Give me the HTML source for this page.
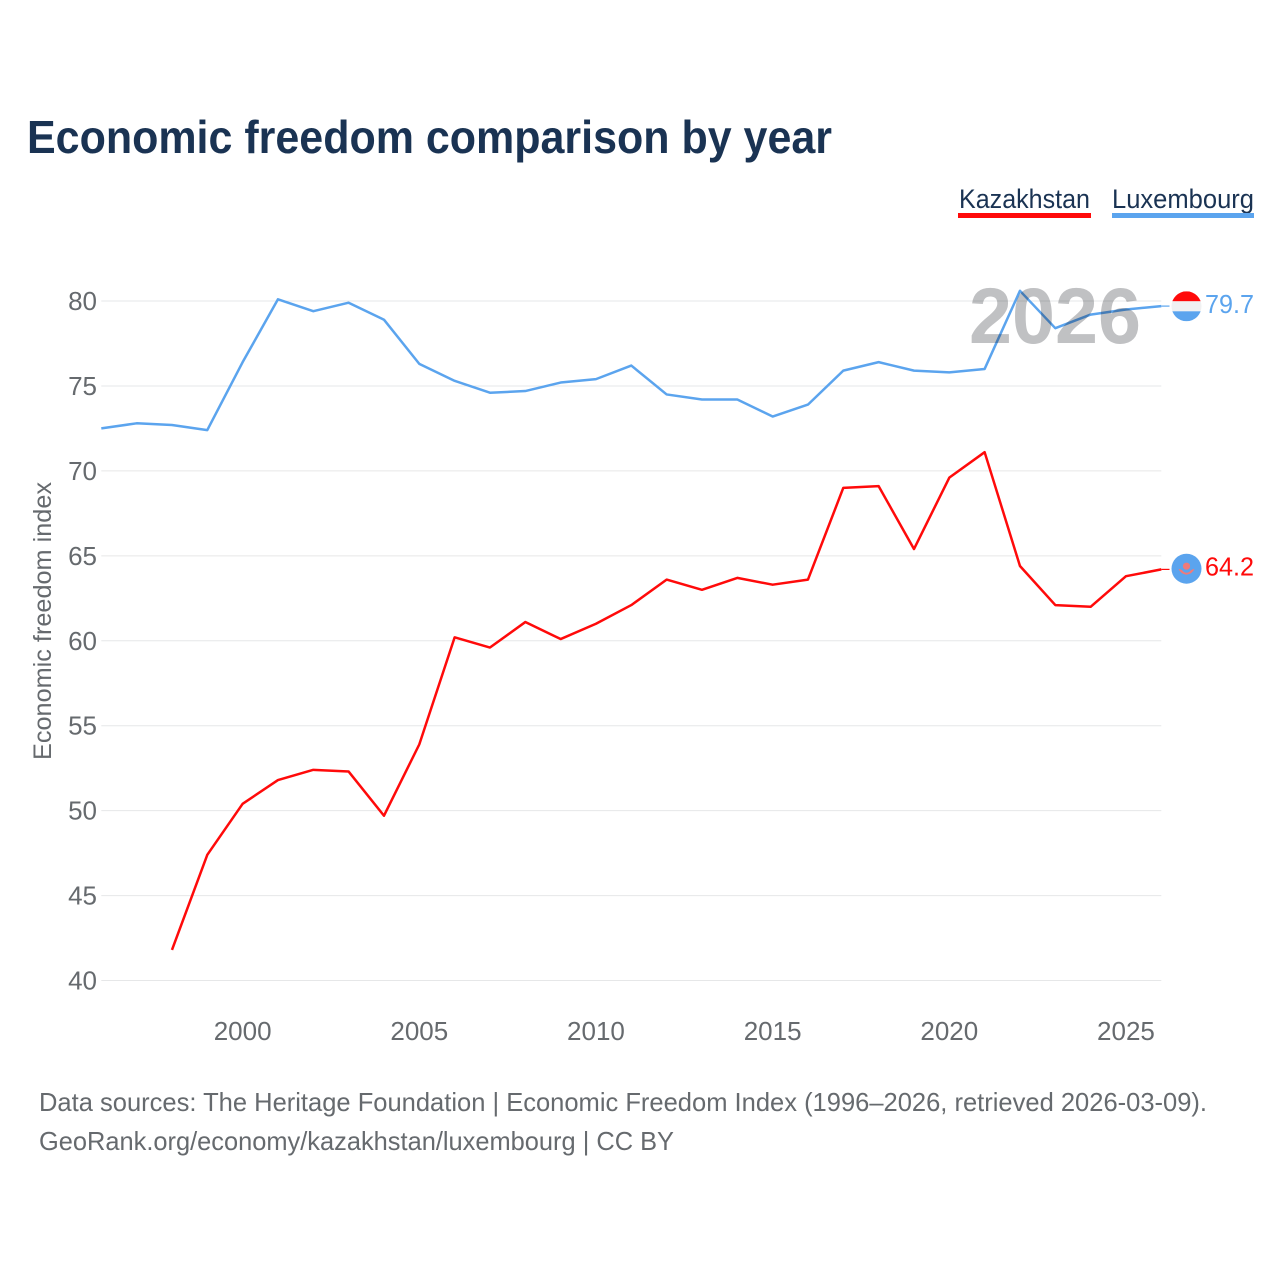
<!DOCTYPE html>
<html lang="en">
<head>
<meta charset="utf-8">
<title>Economic freedom comparison by year</title>
<style>
html,body{margin:0;padding:0;background:#fff;width:1280px;height:1280px;overflow:hidden}
svg{display:block;font-family:"Liberation Sans",sans-serif}
</style>
</head>
<body>
<svg id="chart" xmlns="http://www.w3.org/2000/svg" width="1280" height="1280" viewBox="0 0 1280 1280">
  <rect width="1280" height="1280" fill="#ffffff"/>
  <text x="27" y="153" font-size="46" font-weight="700" fill="#1a3353" textLength="805" lengthAdjust="spacingAndGlyphs">Economic freedom comparison by year</text>

  <g>
    <text x="959" y="208" font-size="27" fill="#1a3353" textLength="131" lengthAdjust="spacingAndGlyphs">Kazakhstan</text>
    <rect x="958" y="213" width="133" height="5" fill="#ff0a0a"/>
  </g>
  <g>
    <text x="1112" y="208" font-size="27" fill="#1a3353" textLength="142" lengthAdjust="spacingAndGlyphs">Luxembourg</text>
    <rect x="1112" y="213" width="142" height="5" fill="#5ba4ee"/>
  </g>

  <g id="grid"></g>
  <g id="yticks"></g>
  <g id="xticks"></g>
  <text transform="translate(51,760) rotate(-90)" font-size="25" fill="#666a6e" textLength="278" lengthAdjust="spacingAndGlyphs">Economic freedom index</text>

  <g id="series"></g>
  <text x="969" y="343" font-size="79" font-weight="700" fill="#c0c1c3" style="mix-blend-mode:multiply" textLength="172" lengthAdjust="spacingAndGlyphs">2026</text>

  <g id="ends"></g>

  <text x="39" y="1111" font-size="26" fill="#666a6e" textLength="1168" lengthAdjust="spacingAndGlyphs">Data sources: The Heritage Foundation | Economic Freedom Index (1996–2026, retrieved 2026-03-09).</text>
  <text x="39" y="1150" font-size="26" fill="#666a6e" textLength="635" lengthAdjust="spacingAndGlyphs">GeoRank.org/economy/kazakhstan/luxembourg | CC BY</text>
</svg>
<script>
const years = [1996,1997,1998,1999,2000,2001,2002,2003,2004,2005,2006,2007,2008,2009,2010,2011,2012,2013,2014,2015,2016,2017,2018,2019,2020,2021,2022,2023,2024,2025,2026];
const luxembourgValues = [72.5,72.8,72.7,72.4,76.4,80.1,79.4,79.9,78.9,76.3,75.3,74.6,74.7,75.2,75.4,76.2,74.5,74.2,74.2,73.2,73.9,75.9,76.4,75.9,75.8,76.0,80.6,78.4,79.2,79.5,79.7];
const kazakhstanValues = [null,null,41.8,47.4,50.4,51.8,52.4,52.3,49.7,53.9,60.2,59.6,61.1,60.1,61.0,62.1,63.6,63.0,63.7,63.3,63.6,69.0,69.1,65.4,69.6,71.1,64.4,62.1,62.0,63.8,64.2];
const yTickValues = [40,45,50,55,60,65,70,75,80];
const xTickValues = [2000,2005,2010,2015,2020,2025];

const NS = 'http://www.w3.org/2000/svg';
const plotLeft = 101.3, plotRight = 1161.3, yearMin = 1996, yearMax = 2026;
const yBase = 980.5, yTop = 301, valueMin = 40, valueMax = 80;
function xScale(year){ return plotLeft + (year - yearMin) * (plotRight - plotLeft) / (yearMax - yearMin); }
function yScale(value){ return yBase - (value - valueMin) * (yBase - yTop) / (valueMax - valueMin); }
function make(tag, parentId){
  const el = document.createElementNS(NS, tag);
  document.getElementById(parentId).appendChild(el);
  return el;
}

yTickValues.forEach(function(v){
  const line = make('line', 'grid');
  
  
  line.setAttribute('x1', plotLeft);
  line.setAttribute('x2', plotRight);
  line.setAttribute('y1', yScale(v));
  line.setAttribute('y2', yScale(v));
  line.setAttribute('stroke', '#e6e7e8');
  line.setAttribute('stroke-width', '1');
  const label = make('text', 'yticks');
  
  
  label.setAttribute('x', 97);
  label.setAttribute('y', yScale(v) + 9);
  label.setAttribute('text-anchor', 'end');
  label.setAttribute('font-size', '26');
  label.setAttribute('fill', '#666a6e');
  label.textContent = v;
});

xTickValues.forEach(function(v){
  const label = make('text', 'xticks');
  
  
  label.setAttribute('x', xScale(v));
  label.setAttribute('y', 1040);
  label.setAttribute('text-anchor', 'middle');
  label.setAttribute('font-size', '26');
  label.setAttribute('fill', '#666a6e');
  label.textContent = v;
});

function buildPath(values){
  let d = '';
  values.forEach(function(v, i){
    if (v === null) return;
    d += (d ? 'L' : 'M') + xScale(years[i]).toFixed(2) + ' ' + yScale(v).toFixed(2);
  });
  return d;
}

const kazLine = make('path', 'series');


kazLine.setAttribute('d', buildPath(kazakhstanValues));
kazLine.setAttribute('fill', 'none');
kazLine.setAttribute('stroke', '#ff0a0a');
kazLine.setAttribute('stroke-width', '2.5');
kazLine.setAttribute('stroke-linejoin', 'round');

const luxLine = make('path', 'series');


luxLine.setAttribute('d', buildPath(luxembourgValues));
luxLine.setAttribute('fill', 'none');
luxLine.setAttribute('stroke', '#5ba4ee');
luxLine.setAttribute('stroke-width', '2.5');
luxLine.setAttribute('stroke-linejoin', 'round');

const lastYear = years[years.length - 1];
const markerX = 1186.5;
const lastLux = luxembourgValues[luxembourgValues.length - 1];
const lastKaz = kazakhstanValues[kazakhstanValues.length - 1];

const luxConnector = make('line', 'ends');


luxConnector.setAttribute('x1', xScale(lastYear));
luxConnector.setAttribute('x2', markerX - 17);
luxConnector.setAttribute('y1', yScale(lastLux));
luxConnector.setAttribute('y2', yScale(lastLux));
luxConnector.setAttribute('stroke', '#5ba4ee');
luxConnector.setAttribute('stroke-width', '1.2');

const kazConnector = make('line', 'ends');


kazConnector.setAttribute('x1', xScale(lastYear));
kazConnector.setAttribute('x2', markerX - 17);
kazConnector.setAttribute('y1', yScale(lastKaz));
kazConnector.setAttribute('y2', yScale(lastKaz));
kazConnector.setAttribute('stroke', '#ff0a0a');
kazConnector.setAttribute('stroke-width', '1.2');

/* Luxembourg flag marker */
const luxCy = yScale(lastLux) + 0.2;
const luxFlag = make('g', 'ends');


luxFlag.setAttribute('transform', 'translate(' + markerX + ',' + luxCy + ')');
luxFlag.innerHTML = '<defs><clipPath id="luxClip"><circle r="15"/></clipPath></defs>'
  + '<g clip-path="url(#luxClip)"><rect x="-15" y="-15" width="30" height="10" fill="#ff0a0a"/>'
  + '<rect x="-15" y="-5" width="30" height="10" fill="#f0f1f2"/>'
  + '<rect x="-15" y="5" width="30" height="10" fill="#5ba4ee"/></g>';

/* Kazakhstan flag marker */
const kazFlag = make('g', 'ends');


kazFlag.setAttribute('transform', 'translate(' + markerX + ',' + (yScale(lastKaz) - 0.7) + ')');
kazFlag.innerHTML = '<circle r="15" fill="#5ba4ee"/>'
  + '<circle cy="-2.5" r="3.6" fill="#f07a7a"/>'
  + '<path d="M-8 0 Q-4 1 -3 3 Q0 5 3 3 Q4 1 8 0 Q6 5 0 6 Q-6 5 -8 0Z" fill="#f07a7a"/>';

const luxValue = make('text', 'ends');


luxValue.setAttribute('x', 1205);
luxValue.setAttribute('y', yScale(lastLux) + 7);
luxValue.setAttribute('font-size', '26');
luxValue.setAttribute('fill', '#5ba4ee');
luxValue.setAttribute('textLength', '49');
luxValue.setAttribute('lengthAdjust', 'spacingAndGlyphs');
luxValue.textContent = lastLux.toFixed(1);

const kazValue = make('text', 'ends');


kazValue.setAttribute('x', 1205);
kazValue.setAttribute('y', yScale(lastKaz) + 6);
kazValue.setAttribute('font-size', '26');
kazValue.setAttribute('fill', '#ff0a0a');
kazValue.setAttribute('textLength', '49');
kazValue.setAttribute('lengthAdjust', 'spacingAndGlyphs');
kazValue.textContent = lastKaz.toFixed(1);
</script>
</body>
</html>
